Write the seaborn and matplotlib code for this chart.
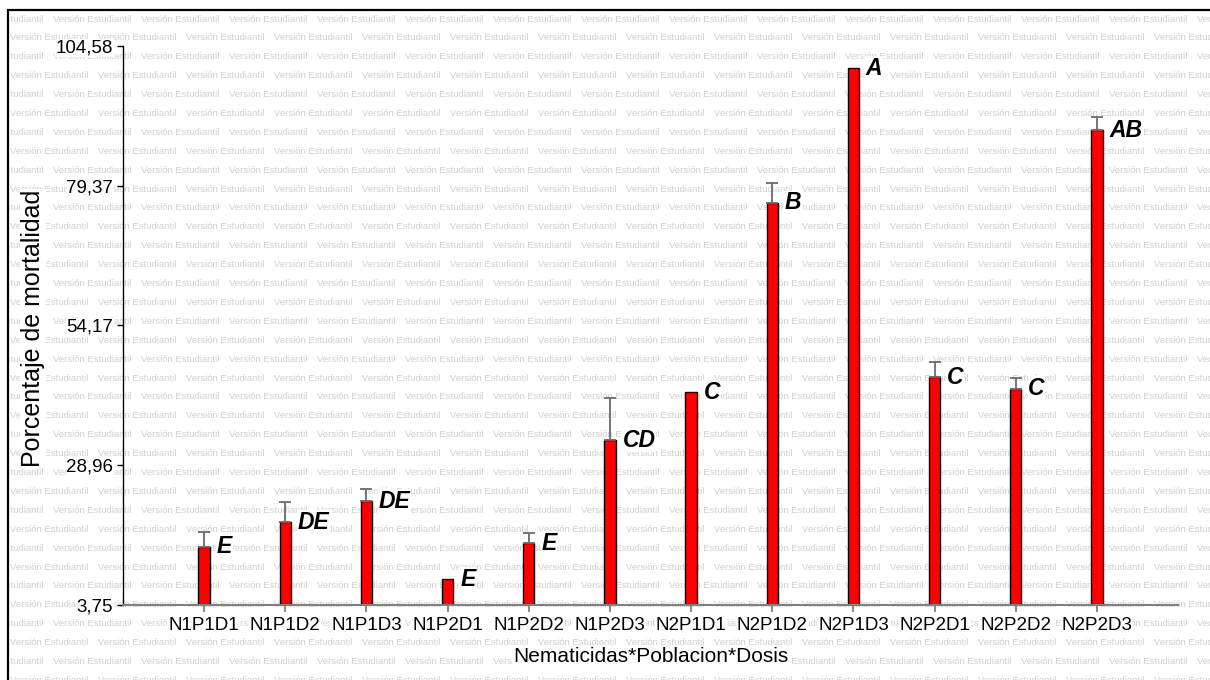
import numpy as np
import pandas as pd
import matplotlib
matplotlib.use("Agg")
import matplotlib.pyplot as plt
from matplotlib.patches import Rectangle
from matplotlib.transforms import Bbox, TransformedBbox
import seaborn as sns

# Treatment combinations (nematicide * population * dose)
tratamientos = ["N1P1D1", "N1P1D2", "N1P1D3", "N1P2D1", "N1P2D2", "N1P2D3",
                "N2P1D1", "N2P1D2", "N2P1D3", "N2P2D1", "N2P2D2", "N2P2D3"]
# Mean mortality (%) and upper error
mortalidad = [14.3, 18.7, 22.5, 8.4, 14.9, 33.5, 42.1, 76.3, 100.6, 44.8, 42.8, 89.4]
error_sup = [2.6, 3.7, 2.1, 0.0, 1.9, 7.6, 0.0, 3.6, 0.0, 2.7, 1.9, 2.3]
# Mean-separation letters
letras = ["E", "DE", "DE", "E", "E", "CD", "C", "B", "A", "C", "C", "AB"]
# Y axis ticks
y_ticks = [3.75, 28.96, 54.17, 79.37, 104.58]
y_tick_labels = ["3,75", "28,96", "54,17", "79,37", "104,58"]

sns.set_style("white")
plt.rcParams["font.family"] = ["Liberation Sans", "DejaVu Sans"]
plt.rcParams.update({"text.color": "black", "axes.labelcolor": "black",
                     "xtick.color": "black", "ytick.color": "black"})

W, H = 1210, 680
fig = plt.figure(figsize=(W / 100, H / 100), dpi=100)
fig.patch.set_facecolor("white")

# Outer frame
fig.add_artist(Rectangle((8 / W, -0.05), 1.2, 670 / H + 0.05,
                         transform=fig.transFigure, fill=False,
                         edgecolor="black", linewidth=1.6, zorder=-2))

# Background watermark
clip = TransformedBbox(Bbox([[9 / W, 0.0], [1.0, 669 / H]]), fig.transFigure)
yrow, k = 19.0, 0
while yrow < H + 10:
    x = (53 if k % 2 == 0 else 10) - 88
    while x < W:
        t = fig.text(x / W, 1 - yrow / H, "Versión Estudiantil", fontsize=6.8,
                     color="#d0d0d0", ha="left", va="center", zorder=-1)
        t.set_clip_box(clip)
        t.set_clip_on(True)
        x += 88
    yrow += 18.9
    k += 1

ax = fig.add_axes([123 / W, 75 / H, 1055 / W, 559 / H])
ax.set_facecolor("none")

df = pd.DataFrame({"trat": tratamientos, "mort": mortalidad})
sns.barplot(data=df, x="trat", y="mort", color="#ff0000", saturation=1,
            width=0.14, edgecolor="black", linewidth=1, errorbar=None,
            ax=ax, zorder=2)

x_pos = np.arange(len(tratamientos))
vals = np.array(mortalidad)
err = np.array(error_sup)
m = err > 0
ax.errorbar(x_pos[m], vals[m], yerr=[np.zeros(m.sum()), err[m]], fmt="none",
            ecolor="#6b6b6b", elinewidth=1.3, capsize=4.5, capthick=1.3,
            zorder=3)

for i, (v, s) in enumerate(zip(mortalidad, letras)):
    ax.annotate(s, (i, v), xytext=(9, 0), textcoords="offset points",
                ha="left", va="center", fontsize=16.5, fontweight="bold",
                fontstyle="italic", color="black", zorder=4,
                annotation_clip=False,
                bbox=dict(facecolor="white", edgecolor="none", pad=0.5))

ax.set_xlim(-1, len(tratamientos))
ax.set_ylim(y_ticks[0], y_ticks[-1])
ax.set_yticks(y_ticks, y_tick_labels)

ax.tick_params(axis="y", left=True, length=4, width=1, color="black",
               labelcolor="black", labelsize=13.5, pad=3)
ax.tick_params(axis="x", bottom=True, length=5, width=1.3, color="#808080",
               labelcolor="black", labelsize=13.5, pad=4)

for side in ["top", "right"]:
    ax.spines[side].set_visible(False)
ax.spines["left"].set_color("black")
ax.spines["left"].set_linewidth(1)
ax.spines["bottom"].set_color("#808080")
ax.spines["bottom"].set_linewidth(1.5)

for lbl in ax.get_xticklabels() + ax.get_yticklabels():
    lbl.set_bbox(dict(facecolor="white", edgecolor="none", pad=0.5))

ax.set_xlabel("Nematicidas*Poblacion*Dosis", fontsize=15, color="black",
              bbox=dict(facecolor="white", edgecolor="none", pad=0.5))
ax.xaxis.set_label_coords(0.5, (605 - 657) / 559)
ax.xaxis.label.set_va("center")
ax.set_ylabel("Porcentaje de mortalidad", fontsize=18, color="black",
              bbox=dict(facecolor="white", edgecolor="none", pad=0.5))
ax.yaxis.set_label_coords((33 - 123) / 1055, (605 - 328) / 559)
ax.yaxis.label.set_va("center")

fig.savefig("out.png", dpi=100, facecolor="white")
